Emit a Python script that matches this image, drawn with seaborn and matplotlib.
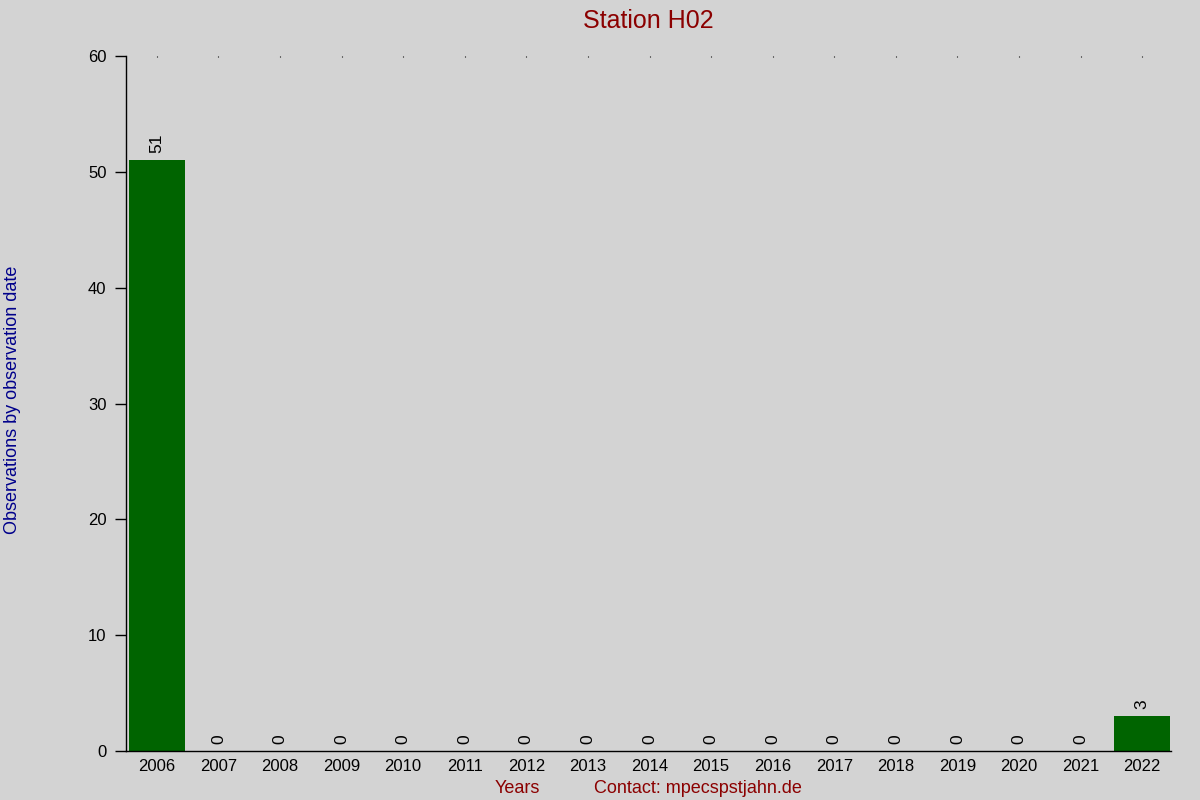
import matplotlib
matplotlib.use("Agg")
import matplotlib.pyplot as plt
import seaborn as sns
import pandas as pd

years = [str(y) for y in range(2006, 2023)]
counts = [51, 0, 0, 0, 0, 0, 0, 0, 0, 0, 0, 0, 0, 0, 0, 0, 3]

sns.set_style("white")
plt.rcParams['font.family'] = ['Liberation Sans', 'DejaVu Sans']

bg = '#d3d3d3'
fig = plt.figure(figsize=(12, 8), dpi=100, facecolor=bg)
ax = fig.add_axes([0.105, 0.06125, 0.871, 0.86875])
ax.set_facecolor(bg)

dados = pd.DataFrame({'year': years, 'count': counts})
sns.barplot(data=dados, x='year', y='count', color='#006400', saturation=1,
            width=0.91, linewidth=0, edgecolor='none', ax=ax)

# rotulos dos valores em cima das barras
for i, v in enumerate(counts):
    ax.text(i, v + 0.6, str(v), rotation=90, ha='center', va='bottom',
            fontsize=12.5, color='black')

ax.set_xlim(-0.5, 16.47)
ax.set_ylim(0, 60)
ax.set_yticks(range(0, 61, 10))

for s in ['top', 'right']:
    ax.spines[s].set_visible(False)
for s in ['left', 'bottom']:
    ax.spines[s].set_color('black')
    ax.spines[s].set_linewidth(1)

ax.tick_params(axis='y', left=True, length=8, width=1, labelsize=12, pad=6,
               colors='black')
ax.tick_params(axis='x', bottom=False, top=True, length=0.8, width=0.8,
               direction='in', labelsize=12, pad=6, colors='black')

ax.set_xlabel('')
ax.set_ylabel('')
fig.text(0.003, 0.5, 'Observations by observation date', color='#00008b',
         fontsize=13, rotation=90, ha='left', va='center')
ax.set_title('Station H02', color='#8b0000', fontsize=18, pad=20)

fig.text(0.431, 0.009, 'Years', color='#8b0000', fontsize=13, ha='center')
fig.text(0.582, 0.009, 'Contact: mpecspstjahn.de', color='#8b0000',
         fontsize=13, ha='center')

fig.savefig('out.png', facecolor=bg)
